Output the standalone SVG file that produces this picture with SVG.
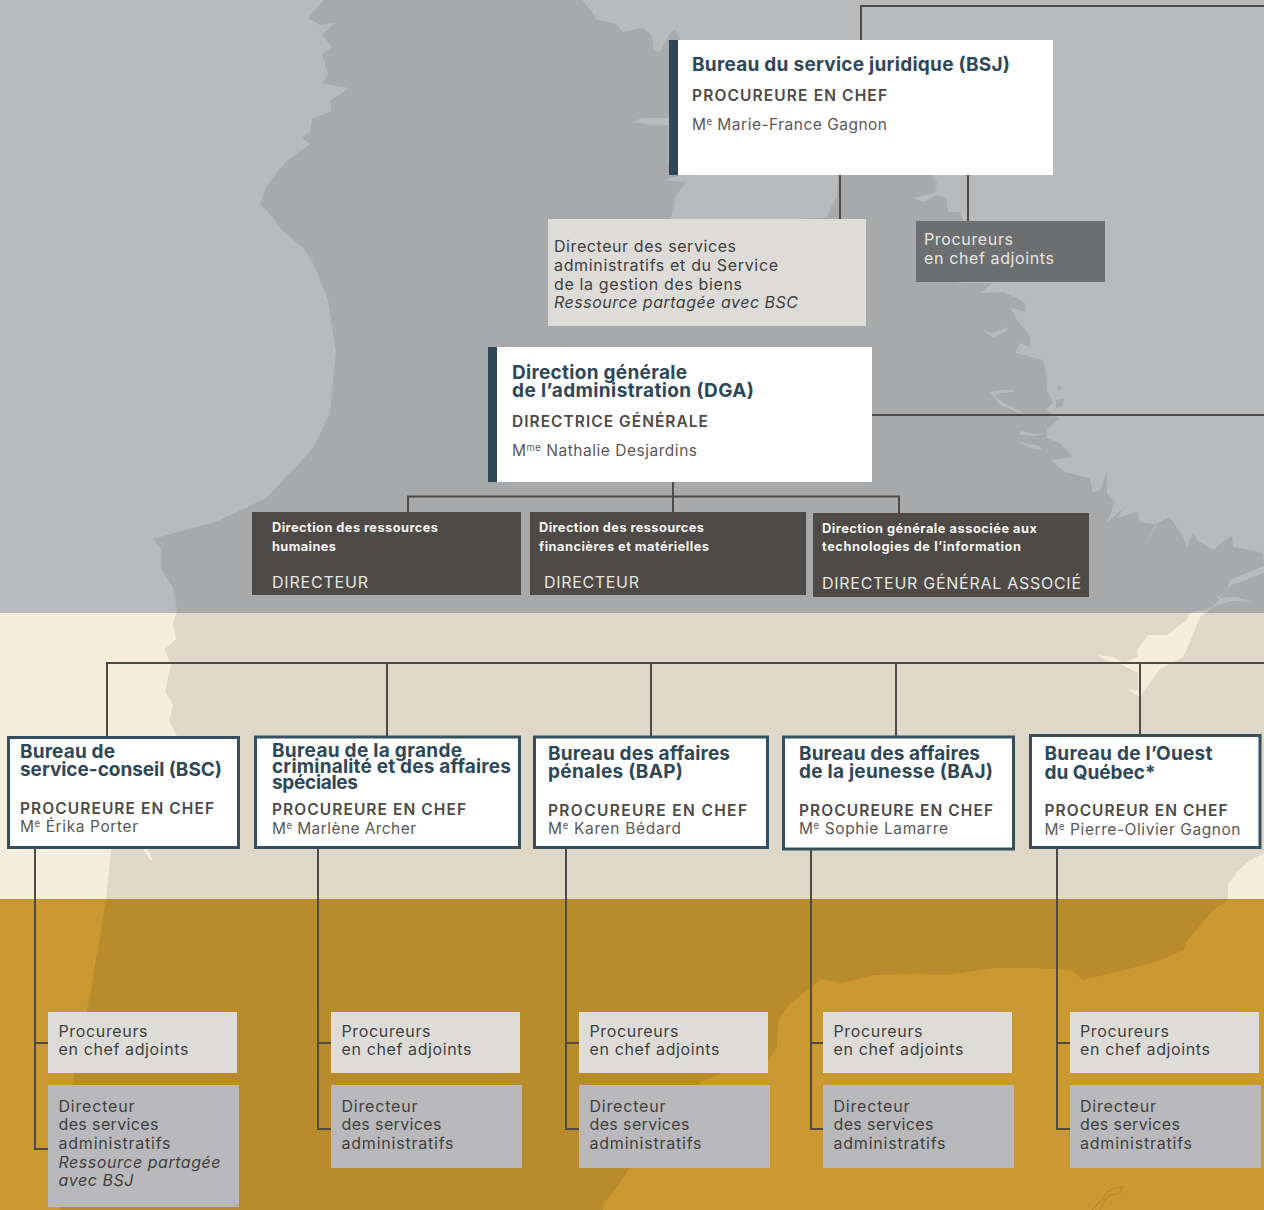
<svg xmlns="http://www.w3.org/2000/svg" width="1264" height="1210" viewBox="0 0 1264 1210">
<style>
text{font-family:Inter,"Noto Sans","Liberation Sans",sans-serif;white-space:pre}
.h{font-size:19px;font-weight:700;fill:#2f4858}
.r{font-size:15.5px;font-weight:600;fill:#4d4a47}
.n{font-size:15.5px;font-weight:400;fill:#5a5856}
.s{font-size:16px;font-weight:400;fill:#3f3f40}
.i{font-style:italic}
.l{font-size:16px;font-weight:400;fill:#e6e6e2}
.b{font-size:12.800px;font-weight:700;fill:#f4f4f2}
.d{font-size:16px;font-weight:400;fill:#e6e6e2}
.sup{font-size:9.500px}
.white{fill:#fff}
.bar{fill:#2f4858}
.dark{fill:#4d4a47}
.light{fill:#dddcd8}
.grey{fill:#b9b9bb}
.mid{fill:#6d6e70}
.boxed{fill:#fff;stroke:#34505f;stroke-width:3}
#connectors path{fill:none;stroke:#4d4a47;stroke-width:2}
</style>
<g id="background">
<rect x="0" y="0" width="1264" height="613" fill="#b9babc"/>
<rect x="0" y="613" width="1264" height="286" fill="#f6eedd"/>
<rect x="0" y="899" width="1264" height="311" fill="#cb9931"/>
<path fill="#000" fill-opacity="0.09" fill-rule="evenodd" d="M324 0L308 18L320 25L335 23L322 35L332 47L322 54L328 74L322 84L349 88L330 101L332 111L312 119L310 132L302 138L310 144L288 160L278 171L266 187L260 204L268 212L282 230L304 249L314 265L328 300L336 352L330 412L314 447L292 471L266 498L218 521L153 539L161 549L161 568L173 588L177 610L173 623L176 639L165 649L171 666L165 691L173 705L169 721L177 736L111 849L106 900L91 989L73 1082L60 1210L603 1210L604 1203L617 1187L630 1168L700 1082L723 1073L767 1063L777 1047L779 1018L789 1005L809 989L821 979L842 983L874 975L914 974L946 975L995 968L1035 968L1071 970L1083 980L1108 974L1156 962L1184 950L1186 942L1212 911L1228 900L1228 884L1237 872L1249 861L1264 853L1264 567L1263 553L1250 550L1233 547L1232 535L1213 550L1197 540L1193 532L1187 547L1183 537L1170 517L1157 523L1140 552L1157 525L1140 522L1137 512L1117 518L1125 507L1107 523L1115 502L1107 493L1107 472L1100 490L1093 493L1090 478L1065 472L1050 460L1073 457L1060 443L1047 438L1047 430L1060 418L1045 410L1053 403L1047 390L1047 377L1043 360L1015 353L1020 343L1030 347L1030 337L1023 327L1017 320L1010 307L1025 312L1025 303L1017 298L1003 292L980 293L993 283L962 283L952 290L962 282L963 221L960 212L948 212L947 198L938 195L923 202L913 198L935 193L937 183L932 175L838 175L837 197L832 205L827 217L800 219L671 219L675 197L686 182L663 180L680 176L668 163L668 125L653 125L632 122L642 118L668 118L690 60L675 29L670 33L660 52L653 50L652 35L642 28L623 32L615 23L597 20L592 12L582 0Z M1190 613L1187 620L1167 635L1148 635L1137 650L1138 657L1123 663L1113 657L1097 655L1106 660L1120 664L1138 673L1138 690L1128 690L1140 697L1160 669L1183 657L1192 637L1200 617L1217 605L1233 601L1253 602L1236 597L1220 598L1213 607Z M1264 566L1230 580L1226 592L1217 597L1218 599L1232 585L1264 573Z M983 330L993 333L1007 327L1008 330L993 338Z M990 392L1000 390L1017 390L1013 392L1000 393L994 396L1004 403L1022 412L1020 413L1000 405Z M143 849L147 849L153 860L150 860Z M1020 431L1035 434L1046 433L1035 436L1020 435Z M1016 441L1040 446L1042 450L1030 448Z M1057 385L1063 388L1058 391Z M1056 400L1064 399L1062 407L1056 408Z"/>
<path fill="none" stroke="#000" stroke-opacity="0.1" stroke-width="1.2" d="M1092 1210L1102 1200L1107 1192L1115 1188L1123 1187L1120 1193L1110 1195L1105 1200L1100 1210"/>
</g>
<g id="connectors">
<path d="M861 40V6H1264"/>
<path d="M840 175V219M968 175V221"/>
<path d="M872 415H1264"/>
<path d="M673 482V512M408 512V496.500H899V513"/>
<path d="M1264 663H107V737M387 663V737M651 663V736M896 663V736M1140 663V736"/>
<path d="M35 849V1149H48M35 1043H48"/>
<path d="M318 849V1129H331M318 1043H331"/>
<path d="M566 849V1129H579M566 1043H579"/>
<path d="M811 850V1129H823M811 1043H823"/>
<path d="M1057 849V1129H1070M1057 1043H1070"/>
</g>
<g id="bsj">
<rect class="white" x="669" y="40" width="384" height="135"/><rect class="bar" x="669" y="40" width="9" height="135"/>
<text class="h" x="692" y="71" textLength="318">Bureau du service juridique (BSJ)</text>
<text class="r" x="692" y="101" textLength="195">PROCUREURE EN CHEF</text>
<text class="n" x="692" y="130" textLength="195">M<tspan class="sup" dy="-5">e</tspan><tspan dy="5"> Marie-France Gagnon</tspan></text>
</g>
<g id="bsj-directeur">
<rect class="light" x="548" y="219" width="318" height="107"/>
<text class="s" x="554" y="252" textLength="182">Directeur des services</text>
<text class="s" x="554" y="271" textLength="224">administratifs et du Service</text>
<text class="s" x="554" y="290" textLength="188">de la gestion des biens</text>
<text class="s i" x="554" y="308" textLength="244">Ressource partagée avec BSC</text>
</g>
<g id="bsj-adjoints">
<rect class="mid" x="916" y="221" width="189" height="61"/>
<text class="l" x="924" y="245" textLength="89">Procureurs</text>
<text class="l" x="924" y="264" textLength="130">en chef adjoints</text>
</g>
<g id="dga">
<rect class="white" x="488" y="347" width="384" height="135"/><rect class="bar" x="488" y="347" width="9" height="135"/>
<text class="h" x="512" y="379" textLength="175">Direction générale</text>
<text class="h" x="512" y="397" textLength="242">de l’administration (DGA)</text>
<text class="r" x="512" y="427" textLength="196">DIRECTRICE GÉNÉRALE</text>
<text class="n" x="512" y="456" textLength="185">M<tspan class="sup" dy="-5">me</tspan><tspan dy="5"> Nathalie Desjardins</tspan></text>
</g>
<g id="drh">
<rect class="dark" x="252" y="512" width="269" height="83"/>
<text class="b" x="272" y="532" textLength="166">Direction des ressources</text>
<text class="b" x="272" y="551" textLength="64">humaines</text>
<text class="d" x="272" y="588" textLength="96">DIRECTEUR</text>
</g>
<g id="drfm">
<rect class="dark" x="530" y="512" width="276" height="83"/>
<text class="b" x="539" y="532" textLength="165">Direction des ressources</text>
<text class="b" x="539" y="551" textLength="170">financières et matérielles</text>
<text class="d" x="544" y="588" textLength="95">DIRECTEUR</text>
</g>
<g id="dgati">
<rect class="dark" x="813" y="513" width="276" height="84"/>
<text class="b" x="822" y="533" textLength="215">Direction générale associée aux</text>
<text class="b" x="822" y="551" textLength="199">technologies de l’information</text>
<text class="d" x="822" y="589" textLength="259">DIRECTEUR GÉNÉRAL ASSOCIÉ</text>
</g>
<g id="bsc">
<rect class="boxed" x="8.500" y="737.500" width="230" height="110"/>
<text class="h" x="20" y="758" textLength="95">Bureau de</text>
<text class="h" x="20" y="776" textLength="202">service-conseil (BSC)</text>
<text class="r" x="20" y="814" textLength="194">PROCUREURE EN CHEF</text>
<text class="n" x="20" y="832" textLength="118">M<tspan class="sup" dy="-5">e</tspan><tspan dy="5"> Érika Porter</tspan></text>
</g>
<g id="bgcas">
<rect class="boxed" x="255.500" y="737" width="264" height="110.500"/>
<text class="h" x="272" y="757" textLength="190">Bureau de la grande</text>
<text class="h" x="272" y="773" textLength="239">criminalité et des affaires</text>
<text class="h" x="272" y="789" textLength="86">spéciales</text>
<text class="r" x="272" y="815" textLength="194">PROCUREURE EN CHEF</text>
<text class="n" x="272" y="834" textLength="144">M<tspan class="sup" dy="-5">e</tspan><tspan dy="5"> Marlène Archer</tspan></text>
</g>
<g id="bap">
<rect class="boxed" x="534.500" y="737" width="233" height="110.500"/>
<text class="h" x="548" y="760" textLength="182">Bureau des affaires</text>
<text class="h" x="548" y="778" textLength="135">pénales (BAP)</text>
<text class="r" x="548" y="816" textLength="199">PROCUREURE EN CHEF</text>
<text class="n" x="548" y="834" textLength="133">M<tspan class="sup" dy="-5">e</tspan><tspan dy="5"> Karen Bédard</tspan></text>
</g>
<g id="baj">
<rect class="boxed" x="783.500" y="737" width="230" height="112"/>
<text class="h" x="799" y="760" textLength="181">Bureau des affaires</text>
<text class="h" x="799" y="778" textLength="194">de la jeunesse (BAJ)</text>
<text class="r" x="799" y="816" textLength="194">PROCUREURE EN CHEF</text>
<text class="n" x="799" y="834" textLength="149">M<tspan class="sup" dy="-5">e</tspan><tspan dy="5"> Sophie Lamarre</tspan></text>
</g>
<g id="bouest">
<rect class="boxed" x="1030.500" y="735.500" width="229.500" height="112"/>
<text class="h" x="1044.500" y="760" textLength="168">Bureau de l’Ouest</text>
<text class="h" x="1044.500" y="779" textLength="111">du Québec*</text>
<text class="r" x="1044.500" y="816" textLength="183">PROCUREUR EN CHEF</text>
<text class="n" x="1044.500" y="835" textLength="196">M<tspan class="sup" dy="-5">e</tspan><tspan dy="5"> Pierre-Olivier Gagnon</tspan></text>
</g>
<g id="bsc-adjoints"><rect class="light" x="48" y="1012" width="189" height="61"/>
<text class="s" x="58.500" y="1037" textLength="89">Procureurs</text><text class="s" x="58.500" y="1055" textLength="130">en chef adjoints</text></g>
<g id="bsc-directeur"><rect class="grey" x="48" y="1085" width="191" height="122"/>
<text class="s" x="58.500" y="1112" textLength="76">Directeur</text><text class="s" x="58.500" y="1130" textLength="100">des services</text><text class="s" x="58.500" y="1149" textLength="112">administratifs</text>
<text class="s i" x="58.500" y="1168" textLength="162">Ressource partagée</text><text class="s i" x="58.500" y="1186" textLength="75">avec BSJ</text></g>
<g id="bgcas-adjoints"><rect class="light" x="331" y="1012" width="189" height="61"/>
<text class="s" x="341.500" y="1037" textLength="89">Procureurs</text><text class="s" x="341.500" y="1055" textLength="130">en chef adjoints</text></g>
<g id="bgcas-directeur"><rect class="grey" x="331" y="1085" width="191" height="83"/>
<text class="s" x="341.500" y="1112" textLength="76">Directeur</text><text class="s" x="341.500" y="1130" textLength="100">des services</text><text class="s" x="341.500" y="1149" textLength="112">administratifs</text></g>
<g id="bap-adjoints"><rect class="light" x="579" y="1012" width="189" height="61"/>
<text class="s" x="589.500" y="1037" textLength="89">Procureurs</text><text class="s" x="589.500" y="1055" textLength="130">en chef adjoints</text></g>
<g id="bap-directeur"><rect class="grey" x="579" y="1085" width="191" height="83"/>
<text class="s" x="589.500" y="1112" textLength="76">Directeur</text><text class="s" x="589.500" y="1130" textLength="100">des services</text><text class="s" x="589.500" y="1149" textLength="112">administratifs</text></g>
<g id="baj-adjoints"><rect class="light" x="823" y="1012" width="189" height="61"/>
<text class="s" x="833.500" y="1037" textLength="89">Procureurs</text><text class="s" x="833.500" y="1055" textLength="130">en chef adjoints</text></g>
<g id="baj-directeur"><rect class="grey" x="823" y="1085" width="191" height="83"/>
<text class="s" x="833.500" y="1112" textLength="76">Directeur</text><text class="s" x="833.500" y="1130" textLength="100">des services</text><text class="s" x="833.500" y="1149" textLength="112">administratifs</text></g>
<g id="bouest-adjoints"><rect class="light" x="1070" y="1012" width="189" height="61"/>
<text class="s" x="1080" y="1037" textLength="89">Procureurs</text><text class="s" x="1080" y="1055" textLength="130">en chef adjoints</text></g>
<g id="bouest-directeur"><rect class="grey" x="1070" y="1085" width="191" height="83"/>
<text class="s" x="1080" y="1112" textLength="76">Directeur</text><text class="s" x="1080" y="1130" textLength="100">des services</text><text class="s" x="1080" y="1149" textLength="112">administratifs</text></g>
</svg>
